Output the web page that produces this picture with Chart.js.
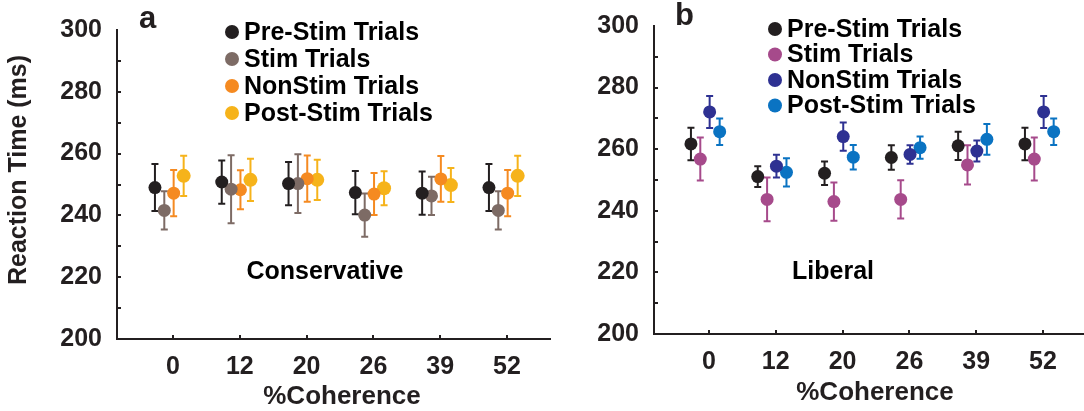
<!DOCTYPE html>
<html>
<head>
<meta charset="utf-8">
<script src="https://cdn.jsdelivr.net/npm/chart.js@4/dist/chart.umd.min.js"></script>
<style>
  body { margin: 0; background: #fff; }
  canvas { position: absolute; top: 0; }
</style>
</head>
<body>
<canvas id="chart-conservative" width="552" height="411" style="left:0"></canvas>
<canvas id="chart-liberal" width="540" height="411" style="left:544px"></canvas>
<script>
const coherence = ['0', '12', '20', '26', '39', '52'];
const seriesNames = ['Pre-Stim Trials', 'Stim Trials', 'NonStim Trials', 'Post-Stim Trials'];
const yTicks = [200, 220, 240, 260, 280, 300];

// conservative block: mean RT and error per coherence level
const consPreStim = [249.0, 250.8, 250.3, 247.4, 247.2, 249.0];
const consPreStimErr = [7.6, 7.0, 7.0, 7.0, 7.0, 7.6];
const consStim = [241.6, 248.5, 250.3, 240.1, 246.3, 241.6];
const consStimErr = [6.2, 11.0, 9.5, 7.0, 6.2, 6.2];
const consNonStim = [247.2, 248.3, 251.9, 246.9, 251.8, 247.2];
const consNonStimErr = [7.5, 6.3, 7.5, 6.8, 7.4, 7.5];
const consPostStim = [252.8, 251.5, 251.5, 248.8, 249.8, 252.8];
const consPostStimErr = [6.5, 6.8, 6.5, 5.5, 5.5, 6.5];

// liberal block
const libPreStim = [261.7, 251.1, 252.2, 257.3, 261.1, 261.7];
const libPreStimErr = [5.3, 3.4, 3.8, 4.0, 4.6, 5.3];
const libStim = [256.8, 243.7, 243.0, 243.7, 254.9, 256.8];
const libStimErr = [7.0, 7.1, 6.2, 6.2, 6.4, 7.0];
const libNonStim = [272.1, 254.5, 264.1, 258.3, 259.4, 272.1];
const libNonStimErr = [5.2, 3.7, 4.6, 3.0, 3.4, 5.2];
const libPostStim = [265.7, 252.5, 257.4, 260.5, 263.2, 265.7];
const libPostStimErr = [4.3, 4.6, 4.0, 3.6, 5.0, 4.3];

const INK = '#231f20';
const FONT = "'Liberation Sans', Arial, sans-serif";
const dodge = [-0.27, -0.13, 0.01, 0.16];

// vertical error bars with caps, drawn under the markers
const errorBars = {
  id: 'errorBars',
  beforeDatasetsDraw(chart) {
    const { ctx, scales: { x, y } } = chart;
    chart.data.datasets.forEach((ds) => {
      ctx.save();
      ctx.strokeStyle = ds.backgroundColor;
      ctx.lineWidth = 2;
      ds.data.forEach((pt) => {
        const px = x.getPixelForValue(pt.x);
        const top = y.getPixelForValue(pt.y + pt.err);
        const bot = y.getPixelForValue(pt.y - pt.err);
        ctx.beginPath();
        ctx.moveTo(px, top); ctx.lineTo(px, bot);
        ctx.moveTo(px - 3.5, top); ctx.lineTo(px + 3.5, top);
        ctx.moveTo(px - 3.5, bot); ctx.lineTo(px + 3.5, bot);
        ctx.stroke();
      });
      ctx.restore();
    });
  },
};

// inward tick marks, panel letter, legend, titles
const decor = {
  id: 'decor',
  afterDraw(chart, args, o) {
    const { ctx, chartArea: a, scales: { x, y } } = chart;
    ctx.save();
    ctx.strokeStyle = INK;
    ctx.lineWidth = 2;
    ctx.beginPath();
    for (let v = 210; v < 300; v += 10) {
      const py = Math.round(y.getPixelForValue(v));
      ctx.moveTo(a.left, py); ctx.lineTo(a.left + 4, py);
    }
    coherence.forEach((_, i) => {
      const px = Math.round(x.getPixelForValue(i + 1));
      ctx.moveTo(px, a.bottom); ctx.lineTo(px, a.bottom - 4);
    });
    ctx.stroke();

    ctx.fillStyle = INK;
    ctx.textBaseline = 'alphabetic';
    ctx.textAlign = 'left';
    ctx.font = `bold 31px ${FONT}`;
    ctx.fillText(o.letter, o.letterX, o.letterY);

    ctx.textBaseline = 'middle';
    ctx.font = `bold 25px ${FONT}`;
    seriesNames.forEach((name, i) => {
      const cy = o.legendY + i * o.legendStep;
      ctx.fillStyle = o.colors[i];
      ctx.beginPath();
      ctx.arc(o.legendX, cy, 7, 0, Math.PI * 2);
      ctx.fill();
      ctx.fillStyle = '#000';
      ctx.fillText(name, o.legendX + 12, cy + 1);
    });

    ctx.textAlign = 'center';
    ctx.fillText(o.block, o.blockX, 272);

    ctx.fillStyle = INK;
    ctx.font = `bold 26px ${FONT}`;
    ctx.fillText('%Coherence', o.xTitleX, o.xTitleY);
    if (o.yTitle) {
      ctx.font = `bold 25px ${FONT}`;
      ctx.translate(19, 170);
      ctx.rotate(-Math.PI / 2);
      ctx.fillText(o.yTitle, 0, 0);
    }
    ctx.restore();
  },
};

function buildDatasets(means, errs, colors, radii) {
  return means.map((m, k) => ({
    label: seriesNames[k],
    data: m.map((v, i) => ({ x: i + 1 + dodge[k], y: v, err: errs[k][i] })),
    backgroundColor: colors[k],
    borderWidth: 0,
    pointRadius: radii[k],
  }));
}

function makePanel(id, datasets, frame, decorOpts) {
  const ctx = document.getElementById(id).getContext('2d');
  new Chart(ctx, {
    type: 'scatter',
    data: { datasets },
    plugins: [errorBars, decor],
    options: {
      responsive: false,
      animation: false,
      events: [],
      layout: { autoPadding: false, padding: { left: 0, right: frame.right, top: frame.top, bottom: 0 } },
      plugins: { legend: { display: false }, tooltip: { enabled: false }, decor: decorOpts },
      scales: {
        x: {
          type: 'linear',
          min: frame.xMin,
          max: frame.xMax,
          afterBuildTicks: (s) => { s.ticks = coherence.map((_, i) => ({ value: i + 1 })); },
          afterFit: (s) => { s.height = frame.xHeight; },
          ticks: {
            callback: (v, i) => coherence[i],
            font: { family: FONT, size: 25, weight: 'bold' },
            color: INK,
            padding: 5,
            maxRotation: 0,
          },
          grid: { display: false },
          border: { display: true, color: INK, width: 2 },
        },
        y: {
          min: 200,
          max: 300,
          afterBuildTicks: (s) => { s.ticks = yTicks.map((v) => ({ value: v })); },
          afterFit: (s) => { s.width = frame.yWidth; },
          ticks: {
            font: { family: FONT, size: 25, weight: 'bold' },
            color: INK,
            padding: 7,
          },
          grid: { display: false },
          border: { display: true, color: INK, width: 2 },
        },
      },
    },
  });
}

document.addEventListener('DOMContentLoaded', () => {
  const consColors = ['#231f20', '#7d6b65', '#f58a21', '#f6b31a'];
  const libColors = ['#231f20', '#a64a8b', '#2e3192', '#0a73c2'];

  makePanel(
    'chart-conservative',
    buildDatasets(
      [consPreStim, consStim, consNonStim, consPostStim],
      [consPreStimErr, consStimErr, consNonStimErr, consPostStimErr],
      consColors,
      [6.5, 6.5, 6.5, 7]
    ),
    { top: 30, right: 2, xHeight: 72, yWidth: 117, xMin: 0.162, xMax: 6.644 },
    {
      letter: 'a', letterX: 139, letterY: 28,
      colors: consColors, legendX: 232, legendY: 32, legendStep: 27,
      block: 'Conservative', blockX: 325,
      xTitleX: 342, xTitleY: 397,
      yTitle: 'Reaction Time (ms)',
    }
  );

  makePanel(
    'chart-liberal',
    buildDatasets(
      [libPreStim, libStim, libNonStim, libPostStim],
      [libPreStimErr, libStimErr, libNonStimErr, libPostStimErr],
      libColors,
      [6.5, 6.5, 6.5, 6.5]
    ),
    { top: 26, right: 0, xHeight: 77, yWidth: 110, xMin: 0.177, xMax: 6.614 },
    {
      letter: 'b', letterX: 131, letterY: 25,
      colors: libColors, legendX: 231, legendY: 29, legendStep: 25.5,
      block: 'Liberal', blockX: 289,
      xTitleX: 331, xTitleY: 393,
      yTitle: null,
    }
  );
});
</script>
</body>
</html>
